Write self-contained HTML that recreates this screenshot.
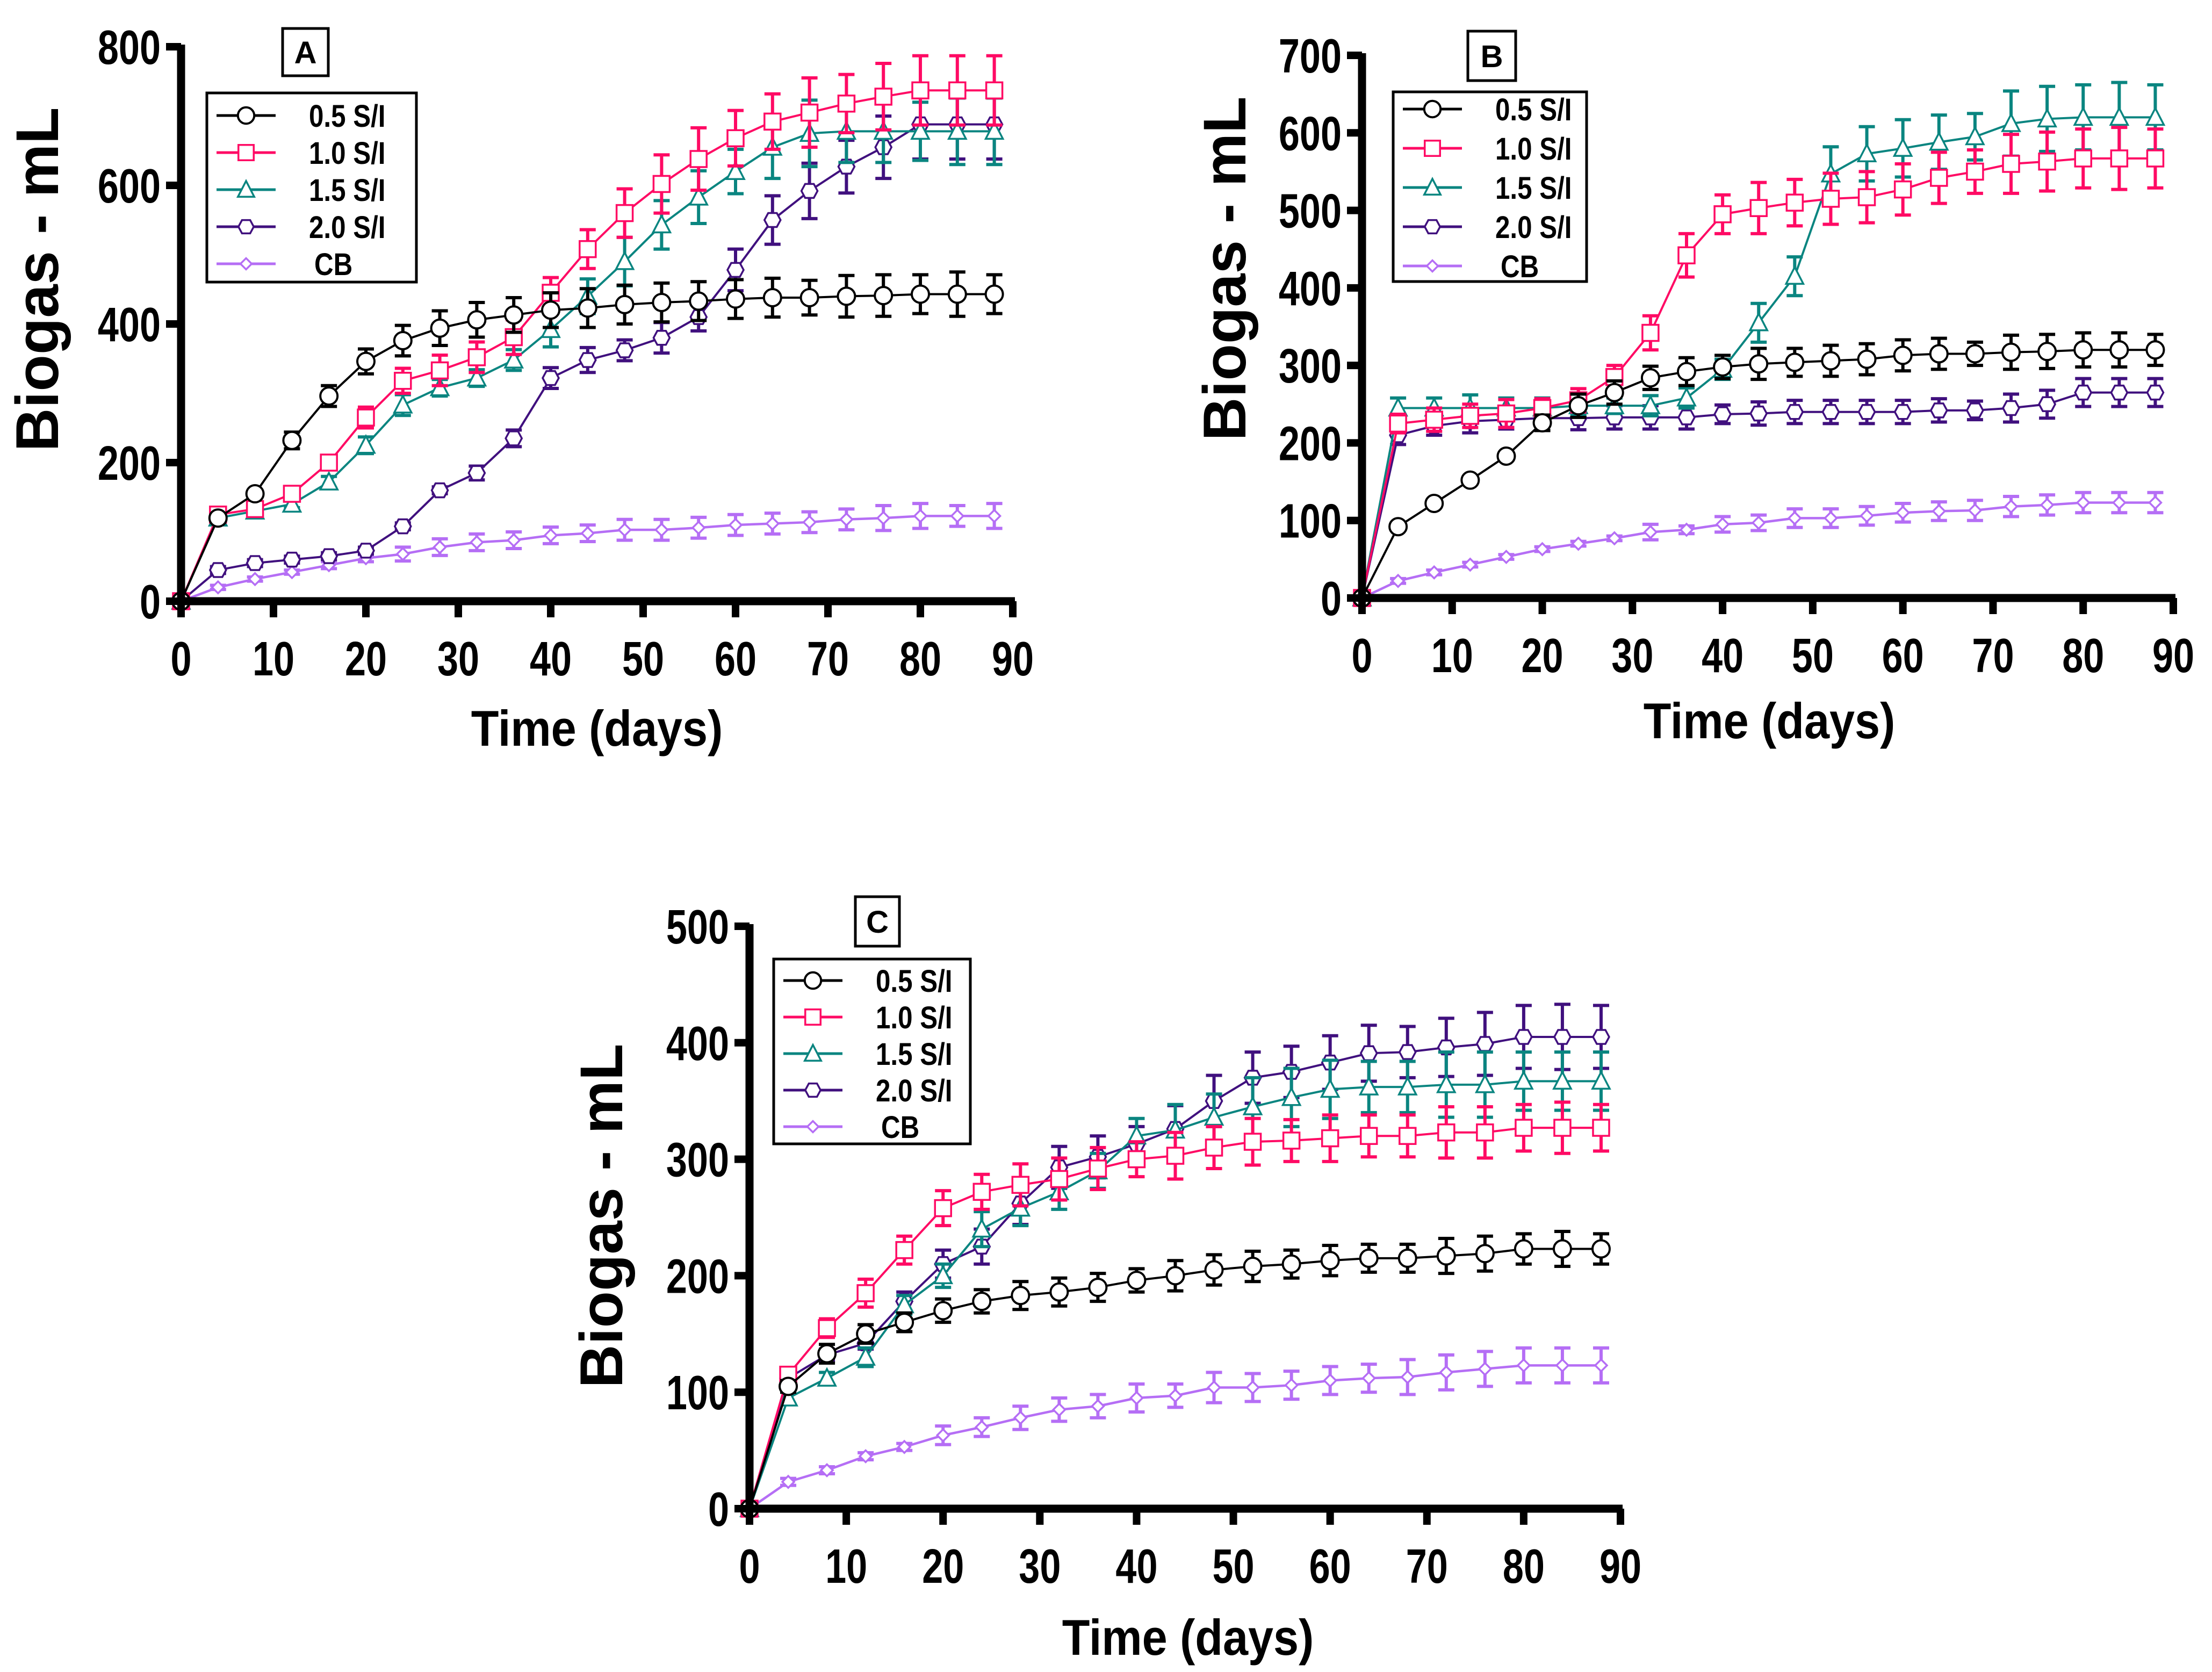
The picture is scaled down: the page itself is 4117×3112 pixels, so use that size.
<!DOCTYPE html>
<html><head><meta charset="utf-8"><style>
html,body{margin:0;padding:0;background:#fff}
svg{display:block}
text{font-family:"Liberation Sans",sans-serif;font-weight:bold}
</style></head><body>
<svg id="fig" width="4117" height="3112" viewBox="0 0 4117 3112" xmlns="http://www.w3.org/2000/svg"></svg>
<script>
const days = [0,4,8,12,16,20,24,28,32,36,40,44,48,52,56,60,64,68,72,76,80,84,88];
const xTicks = [0,10,20,30,40,50,60,70,80,90];
const seriesNames = ["0.5 S/I","1.0 S/I","1.5 S/I","2.0 S/I","CB"];
// Panel A
const a05 = [0,120,155,232,296,346,376,394,406,413,420,423,428,431,433,436,438,438,440,441,443,443,443];
const a10 = [0,125,133,155,200,265,318,333,352,381,445,508,560,602,638,668,692,705,718,728,737,737,737];
const a15 = [0,120,130,140,172,225,283,308,322,348,392,440,490,543,583,620,655,675,678,678,678,678,678];
const a20 = [0,45,55,60,65,73,108,160,185,235,322,348,362,380,410,478,550,592,627,655,688,688,688];
const aCB = [0,20,32,42,52,62,68,78,85,88,95,98,103,103,106,110,112,114,118,120,123,123,123];
const aE05 = [0,5,5,12,15,18,22,25,25,25,25,28,28,28,28,28,28,25,30,30,28,32,28];
const aE10 = [0,5,5,8,10,15,18,22,22,25,22,28,35,42,45,40,40,50,42,48,50,50,50];
const aE15 = [0,5,5,5,8,12,15,12,12,15,25,25,35,35,38,32,45,48,45,45,42,48,48];
const aE20 = [0,5,5,5,5,5,5,5,10,12,15,18,15,22,20,30,35,40,38,45,50,50,50];
const aECB = [0,3,3,3,5,5,10,12,12,12,12,12,15,15,15,15,15,15,15,18,18,15,18];
const aYTicks = [0,200,400,600,800];
// Panel B
const b05 = [0,92,122,152,183,226,248,265,284,292,298,302,304,306,308,313,315,315,317,318,320,320,320];
const b10 = [0,225,230,235,238,245,255,285,342,442,495,503,510,515,517,527,542,550,560,563,567,567,567];
const b15 = [0,245,245,245,245,245,248,248,248,258,295,355,415,547,573,580,588,595,612,618,620,620,620];
const b20 = [0,210,222,228,230,232,232,233,233,233,237,238,240,240,240,240,242,242,245,250,265,265,265];
const bCB = [0,22,33,43,53,63,70,77,85,88,95,97,103,103,106,110,112,113,118,120,123,123,123];
const bE05 = [0,3,3,3,3,10,15,15,15,18,15,20,18,20,20,20,20,15,22,22,22,22,20];
const bE10 = [0,12,15,15,18,12,15,15,22,28,25,33,30,33,33,33,33,28,38,38,38,40,38];
const bE15 = [0,13,13,17,13,13,13,10,13,13,13,25,25,35,35,37,35,30,42,42,42,45,42];
const bE20 = [0,12,12,15,12,8,15,15,15,15,12,15,15,15,15,15,15,12,18,18,18,18,18];
const bECB = [0,3,3,3,3,3,3,3,10,5,10,10,12,12,12,12,12,13,13,13,13,13,13];
const bYTicks = [0,100,200,300,400,500,600,700];
// Panel C
const c05 = [0,105,133,150,160,170,178,183,186,190,196,200,205,208,210,213,215,215,217,219,223,223,223];
const c10 = [0,115,155,185,222,258,272,278,283,292,300,303,310,315,316,318,320,320,323,323,327,327,327];
const c15 = [0,95,112,130,175,200,240,258,272,290,320,325,336,345,353,360,362,362,364,364,367,367,367];
const c20 = [0,112,132,142,178,210,225,262,293,302,313,326,350,370,375,383,391,392,396,399,405,405,405];
const cCB = [0,23,33,45,53,63,70,78,85,88,95,97,104,104,106,110,112,113,117,120,123,123,123];
const cE05 = [0,5,8,8,8,10,10,12,12,12,10,13,13,13,12,13,12,12,15,15,13,15,13];
const cE10 = [0,5,8,12,12,15,15,18,18,18,15,20,18,20,18,20,18,18,22,22,20,22,20];
const cE15 = [0,5,5,8,8,10,15,15,15,15,15,22,20,25,25,25,22,22,28,28,25,25,25];
const cE20 = [0,5,5,5,8,12,15,18,18,18,15,20,22,22,22,23,24,22,25,27,27,28,27];
const cECB = [0,3,3,3,3,8,8,10,10,10,12,10,13,12,12,12,12,15,15,15,15,15,15];
const cYTicks = [0,100,200,300,400,500];

const NS = "http://www.w3.org/2000/svg";
const svg = document.getElementById('fig');
const colors = ["#000000","#ff0a64","#0a8580","#40107e","#b56ef5"];
const shapes = ["circle","square","triangle","hexagon","diamond"];

function mk(tag, attrs, parent){
  const e = document.createElementNS(NS, tag);
  for (const k in attrs) e.setAttribute(k, attrs[k]);
  parent.appendChild(e);
  return e;
}
function txt(parent, x, y, str, size, sx, anchor, rot){
  const t = mk('text',{x:0,y:0,'font-size':size,'text-anchor':anchor,
    transform:`translate(${x},${y})${rot?' rotate(-90)':''} scale(${sx},1)`},parent);
  t.textContent = str;
  return t;
}
function marker(g, shape, x, y, col, s){
  let e;
  if (shape==="circle") e = mk('circle',{cx:x,cy:y,r:16*s,fill:'#fff',stroke:col,'stroke-width':4},g);
  else if (shape==="square") e = mk('rect',{x:x-15*s,y:y-15*s,width:30*s,height:30*s,fill:'#fff',stroke:col,'stroke-width':3.5},g);
  else if (shape==="triangle") e = mk('polygon',{points:`${x},${y-17*s} ${x+16*s},${y+14*s} ${x-16*s},${y+14*s}`,fill:'#fff',stroke:col,'stroke-width':3.5},g);
  else if (shape==="hexagon") e = mk('polygon',{points:`${x-15*s},${y} ${x-8*s},${y-13*s} ${x+8*s},${y-13*s} ${x+15*s},${y} ${x+8*s},${y+13*s} ${x-8*s},${y+13*s}`,fill:'#fff',stroke:col,'stroke-width':3.5},g);
  else e = mk('polygon',{points:`${x},${y-11*s} ${x+11*s},${y} ${x},${y+11*s} ${x-11*s},${y}`,fill:'#fff',stroke:col,'stroke-width':3.5},g);
  return e;
}

function panel(cfg, series, errs){
  const g = mk('g',{},svg);
  
  
  const X = d => cfg.x0 + (cfg.x1-cfg.x0)*d/90;
  const Y = v => cfg.y0 - (cfg.y0-cfg.yTop)*v/cfg.yMax;
  for (let si=4; si>=0; si--){
    const sg = mk('g',{},g);
    
    
    const vals = series[si], er = errs[si], col = colors[si];
    for (let i=0;i<days.length;i++){
      if (!er[i]) continue;
      const x = X(days[i]);
      const eb = mk('path',{d:`M${x},${Y(vals[i]-er[i])}V${Y(vals[i]+er[i])}M${x-15},${Y(vals[i]+er[i])}h30M${x-15},${Y(vals[i]-er[i])}h30`,stroke:col,'stroke-width':6,fill:'none'},sg);
      
      
    }
    const pts = days.map((d,i)=>X(d)+','+Y(vals[i])).join(' ');
    const ln = mk('polyline',{points:pts,fill:'none',stroke:col,'stroke-width':si===4?4.5:4},sg);
    
    
    for (let i=0;i<days.length;i++){
      const m = marker(sg, shapes[si], X(days[i]), Y(vals[i]), col, 1);
      
      
    }
  }
  const ax = mk('path',{d:`M${cfg.x0},${cfg.yTop-4}V${cfg.y0}H${X(90)+4}`,stroke:'#000','stroke-width':15,fill:'none'},g);
  
  
  for (const t of cfg.yTicks){
    const y = Y(t);
    mk('line',{x1:cfg.x0-28,x2:cfg.x0,y1:y,y2:y,stroke:'#000','stroke-width':14},g);
    const tx = txt(g, cfg.x0-38, y+32, String(t), 90, 0.78, 'end');
    
    
  }
  for (const t of xTicks){
    const x = X(t);
    mk('line',{x1:x,x2:x,y1:cfg.y0,y2:cfg.y0+30,stroke:'#000','stroke-width':14},g);
    const tx = txt(g, x, cfg.y0+138, String(t), 90, 0.78, 'middle');
    
    
  }
  const yt = txt(g, cfg.ytx, cfg.yty, 'Biogas - mL', 112, 1, 'middle', true);
  
  
  const xt = txt(g, cfg.xtx, cfg.xty, 'Time (days)', 94, 0.9, 'middle');
  
  
  const lb = mk('g',{},g);
  
  
  mk('rect',{x:cfg.bx,y:cfg.by,width:cfg.bw,height:cfg.bh,fill:'#fff',stroke:'#000','stroke-width':5},lb);
  txt(lb, cfg.bx+cfg.bw/2, cfg.by+cfg.bh/2+21, cfg.id, 58, 1, 'middle');
  const lg = mk('g',{},g);
  
  
  mk('rect',{x:cfg.lx,y:cfg.ly,width:cfg.lw,height:cfg.lh,fill:'#fff',stroke:'#000','stroke-width':5},lg);
  for (let si=0; si<5; si++){
    const ry = cfg.ly + cfg.lr0 + si*cfg.lsp;
    const le = mk('g',{},lg);
    
    
    mk('line',{x1:cfg.lx+18,x2:cfg.lx+128,y1:ry,y2:ry,stroke:colors[si],'stroke-width':5},le);
    marker(le, shapes[si], cfg.lx+73, ry, colors[si], 0.95);
    txt(le, cfg.lx+(si===4?200:190), ry+21, seriesNames[si], 58, 0.85, 'start');
  }
}

panel({id:'A',x0:337,x1:1885,y0:1119,yTop:87,yMax:800,yTicks:aYTicks,ytx:108,yty:520,xtx:1111,xty:1388,
  bx:526,by:53,bw:85,bh:88,lx:385,ly:173,lw:390,lh:352,lr0:42,lsp:69},
  [a05,a10,a15,a20,aCB],[aE05,aE10,aE15,aE20,aECB]);
panel({id:'B',x0:2535,x1:4045,y0:1113,yTop:103,yMax:700,yTicks:bYTicks,ytx:2318,yty:500,xtx:3293,xty:1374,
  bx:2732,by:58,bw:89,bh:92,lx:2593,ly:171,lw:360,lh:353,lr0:32,lsp:73},
  [b05,b10,b15,b20,bCB],[bE05,bE10,bE15,bE20,bECB]);
panel({id:'C',x0:1395,x1:3016,y0:2808,yTop:1724,yMax:500,yTicks:cYTicks,ytx:1158,yty:2263,xtx:2211,xty:3080,
  bx:1592,by:1669,bw:82,bh:92,lx:1440,ly:1785,lw:366,lh:344,lr0:40,lsp:68},
  [c05,c10,c15,c20,cCB],[cE05,cE10,cE15,cE20,cECB]);
</script>
</body></html>
